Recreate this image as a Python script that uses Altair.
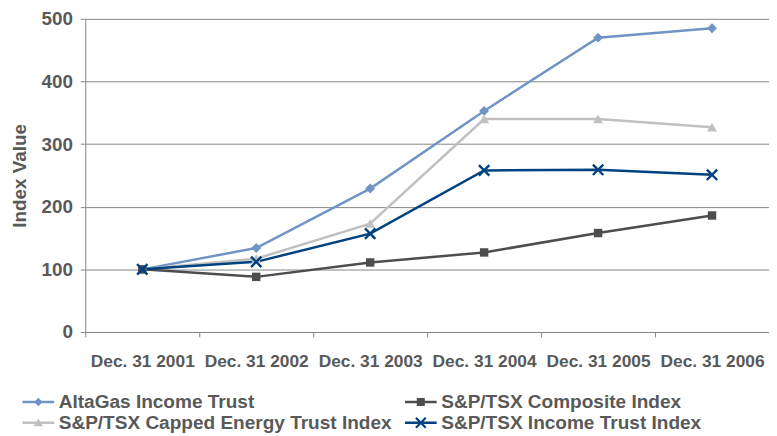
import altair as alt
import pandas as pd

dates = ["Dec. 31 2001", "Dec. 31 2002", "Dec. 31 2003", "Dec. 31 2004", "Dec. 31 2005", "Dec. 31 2006"]
series_names = ["AltaGas Income Trust", "S&P/TSX Capped Energy Trust Index",
                "S&P/TSX Composite Index", "S&P/TSX Income Trust Index"]
altagas = [100, 134, 229, 353, 470, 485]
capped = [100, 117, 173, 340, 340, 327]
composite = [100, 88, 111, 127, 158, 186]
income = [100, 112, 157, 258, 259, 251]
colors = ["#7094C6", "#C0C0C0", "#4D4D4D", "#00427F"]
y_ticks = [0, 100, 200, 300, 400, 500]

values = [altagas, capped, composite, income]
rows = []
for name, vals in zip(series_names, values):
    for d, v in zip(dates, vals):
        rows.append({"date": d, "series": name, "value": v})
df = pd.DataFrame(rows)

def xpoly(a, t, cx=0.0):
    d = t / 1.41421356
    def p(x, y):
        return f"{x + cx:.3f},{y:.3f}"
    r1 = f"M{p(-a+d, -a-d)}L{p(a+d, a-d)}L{p(a-d, a+d)}L{p(-a-d, -a+d)}Z"
    r2 = f"M{p(-a-d, a-d)}L{p(a-d, -a-d)}L{p(a+d, -a+d)}L{p(-a+d, a+d)}Z"
    return r1 + " " + r2

# chart markers (unit = 5 px)
marker_paths = [
    "M0,-1L1,0L0,1L-1,0Z",
    "M0,-0.9L1,0.85H-1Z",
    "M-0.85,-0.85H0.85V0.85H-0.85Z",
    xpoly(1.05, 0.24),
]
# legend symbols (unit = 9 px, symbol box 18 px; line drawn 0..32 px from its left)
c = 0.78  # centre of the 32 px symbol, in units from the box centre
line_p = "M-1,-0.14H2.556V0.14H-1Z "
legend_paths = [
    line_p + f"M{c:.3f},-0.48L{c+0.48:.3f},0L{c:.3f},0.48L{c-0.48:.3f},0Z",
    line_p + f"M{c:.3f},-0.48L{c+0.53:.3f},0.4H{c-0.53:.3f}Z",
    line_p + f"M{c-0.45:.3f},-0.45H{c+0.45:.3f}V0.45H{c-0.45:.3f}Z",
    line_p + xpoly(0.55, 0.12, c),
]

FONT = "Liberation Sans"
TXT = "#595959"
GRID = "#868686"

x_enc = alt.X("date:N", sort=dates, title=None,
              scale=alt.Scale(type="band", paddingInner=0, paddingOuter=0),
              axis=alt.Axis(tickBand="extent", labelAngle=0, labelFontSize=17.5,
                            labelFont=FONT, labelFontWeight="bold", labelColor=TXT,
                            labelPadding=16, tickSize=5, tickColor=GRID,
                            domainColor=GRID, grid=False))
y_enc = alt.Y("value:Q", title="Index Value",
              scale=alt.Scale(domain=[0, 500], nice=False),
              axis=alt.Axis(values=y_ticks, labelFontSize=19, labelFont=FONT,
                            labelFontWeight="bold", labelColor=TXT, labelPadding=8,
                            tickSize=5, tickColor=GRID, domainColor=GRID,
                            gridColor=GRID, gridWidth=1,
                            titleFont=FONT, titleFontSize=19, titleFontWeight="bold",
                            titleColor=TXT, titlePadding=12))

color_scale = alt.Scale(domain=series_names, range=colors)

base = alt.Chart(df)

lines = base.mark_line(strokeWidth=2.5).encode(
    x=x_enc, y=y_enc,
    color=alt.Color("series:N", scale=color_scale, legend=None),
)

points = base.mark_point(filled=True, opacity=1, size=100).encode(
    x=x_enc, y=y_enc,
    color=alt.Color("series:N", scale=color_scale, legend=None),
    shape=alt.Shape("series:N", scale=alt.Scale(domain=series_names, range=marker_paths), legend=None),
)

def make_legend():
    return alt.Legend(title=None, orient="none", legendX=-64, legendY=377,
                      columns=2, columnPadding=12, rowPadding=1,
                      symbolSize=324, symbolStrokeWidth=0,
                      labelFont=FONT, labelFontSize=19.2,
                      labelFontWeight="bold", labelColor=TXT,
                      labelOffset=18, labelLimit=600, padding=0)

legend_layer = base.mark_point(filled=True, opacity=1, clip=True).encode(
    x=x_enc,
    y=alt.value(3000),
    color=alt.Color("series:N", scale=alt.Scale(domain=series_names, range=colors),
                    legend=make_legend()),
    shape=alt.Shape("series:N", scale=alt.Scale(domain=series_names, range=legend_paths),
                    legend=make_legend()),
)

chart = alt.layer(lines, points, legend_layer).resolve_scale(
    color="independent", shape="independent"
).properties(
    width=690, height=316,
    autosize=alt.AutoSizeParams(type="none"),
    padding={"left": 78, "top": 9, "right": 0, "bottom": 100},
).configure_view(stroke=None)

chart.save("out.html", embed_options={"renderer": "svg", "actions": False})
